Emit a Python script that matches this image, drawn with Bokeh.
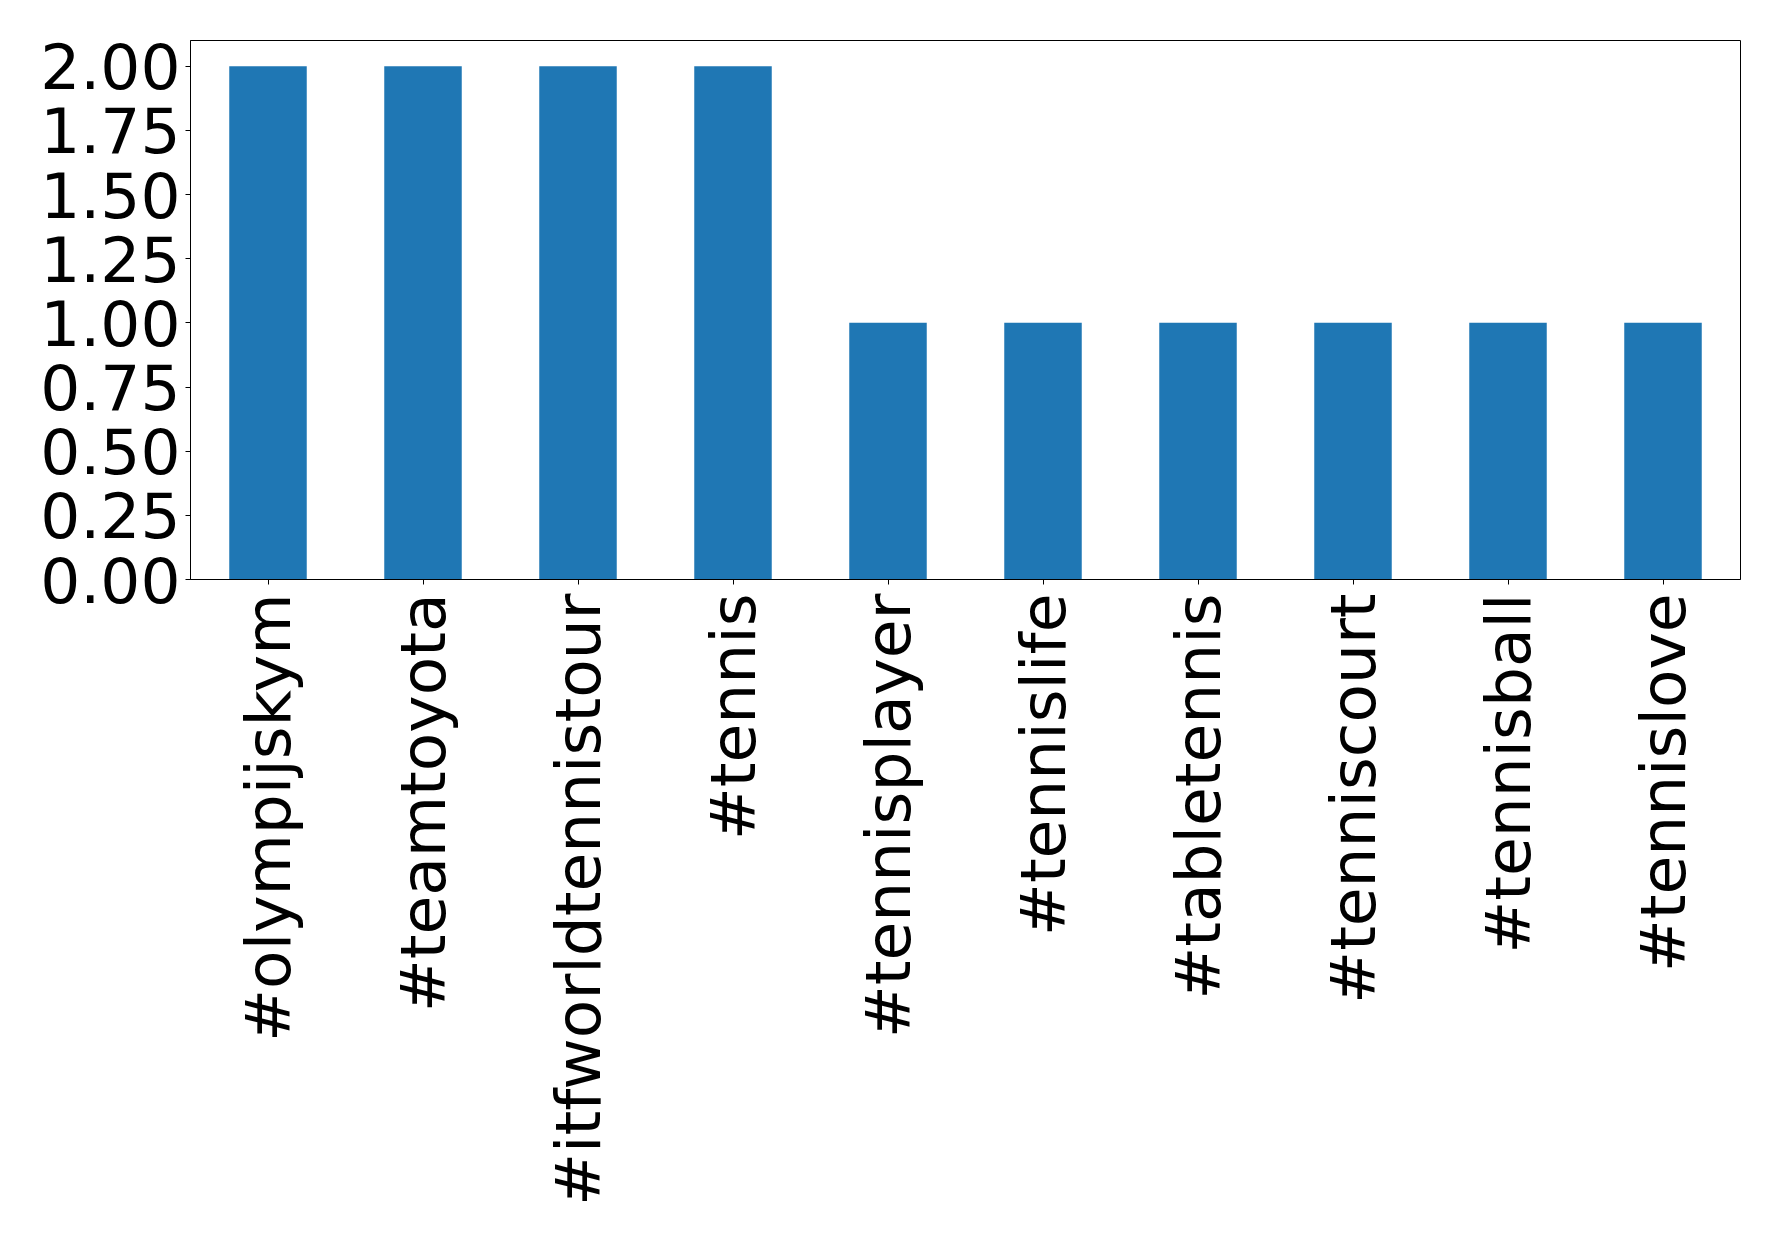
import math
from bokeh.plotting import figure
from bokeh.models import FactorRange, Range1d, FixedTicker, NumeralTickFormatter, ColumnDataSource
from bokeh.embed import file_html
from bokeh.resources import INLINE

hashtags = ["#olympijskym", "#teamtoyota", "#itfworldtennistour", "#tennis",
            "#tennisplayer", "#tennislife", "#tabletennis", "#tenniscourt",
            "#tennisball", "#tennislove"]
counts = [2, 2, 2, 2, 1, 1, 1, 1, 1, 1]
y_ticks = [0, 0.25, 0.5, 0.75, 1.0, 1.25, 1.5, 1.75, 2.0]

src = ColumnDataSource(dict(tag=hashtags, n=counts))

p = figure(x_range=FactorRange(*hashtags, range_padding=0), y_range=Range1d(0, 2.1),
           frame_width=1550, frame_height=539,
           min_border_left=190, min_border_top=40, min_border_right=20, min_border_bottom=635,
           output_backend="svg", toolbar_location=None)

p.vbar(x="tag", top="n", width=0.5, source=src, color="#1f77b4", line_color=None)

p.xgrid.visible = False
p.ygrid.visible = False
p.outline_line_color = "black"
p.outline_line_width = 1
p.background_fill_color = "white"
p.border_fill_color = "white"

for ax in (p.xaxis[0], p.yaxis[0]):
    ax.major_label_text_font = "DejaVu Sans"
    ax.major_label_text_font_size = "63px"
    ax.major_label_text_color = "black"
    ax.axis_line_color = "black"
    ax.major_tick_line_color = "black"
    ax.major_tick_in = 0
    ax.major_tick_out = 5
    ax.minor_tick_line_color = None
    ax.major_label_standoff = 5

p.xaxis[0].major_label_standoff = 9
p.yaxis[0].ticker = FixedTicker(ticks=y_ticks)
p.yaxis[0].formatter = NumeralTickFormatter(format="0.00")
p.xaxis[0].major_label_orientation = math.pi / 2

open("out.html", "w").write(file_html(p, INLINE))
